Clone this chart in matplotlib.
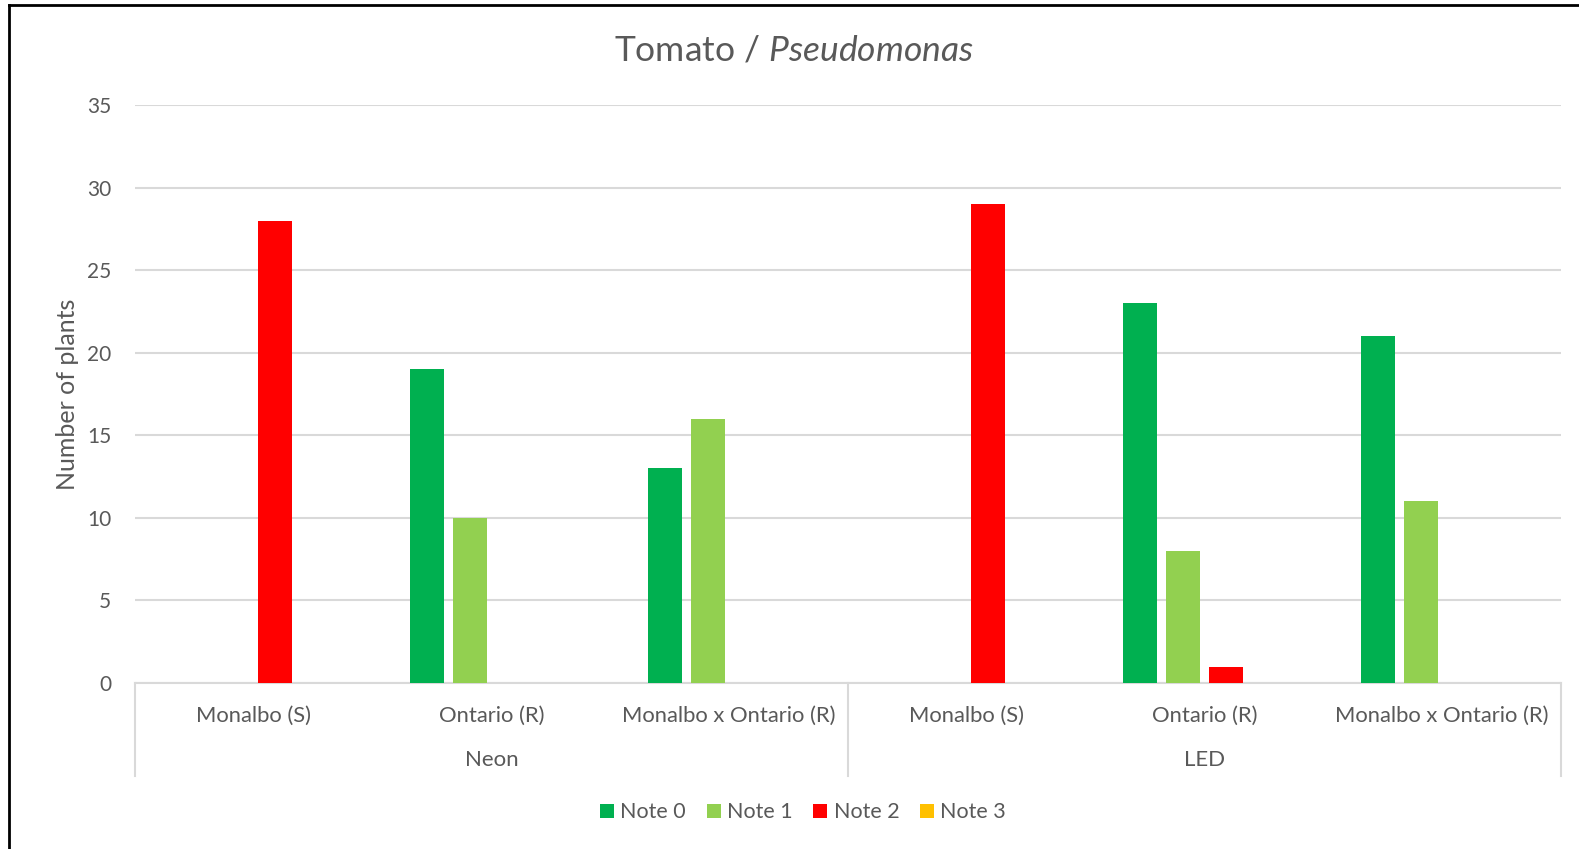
import matplotlib.pyplot as plt
from matplotlib.lines import Line2D
import matplotlib.transforms as mtransforms
import numpy as np

# data
groups = ["Neon", "LED"]
varieties = ["Monalbo (S)", "Ontario (R)", "Monalbo x Ontario (R)"]
series = ["Note 0", "Note 1", "Note 2", "Note 3"]
note0 = [0, 19, 13, 0, 23, 21]
note1 = [0, 10, 16, 0, 8, 11]
note2 = [28, 0, 0, 29, 1, 0]
note3 = [0, 0, 0, 0, 0, 0]
colors = ["#00B050", "#92D050", "#FF0000", "#FFC000"]

plt.rcParams['font.family'] = ['Lato', 'DejaVu Sans']
plt.rcParams['mathtext.fontset'] = 'custom'
plt.rcParams['mathtext.rm'] = 'Lato'
plt.rcParams['mathtext.it'] = 'Lato:italic'
txt = "#595959"
grid = "#D9D9D9"

fig = plt.figure(figsize=(15.79, 8.49), dpi=100)
ax = fig.add_axes([0.0855, 0.1955, 0.9031, 0.6808])

x = np.arange(len(groups) * len(varieties))
pitch = 0.181
bw = 0.143
for i, (name, vals) in enumerate(zip(series, [note0, note1, note2, note3])):
    ax.bar(x + (i - 1.5) * pitch, vals, bw, color=colors[i], label=name, zorder=3)

ax.set_xlim(-0.5, len(x) - 0.5)
ax.set_ylim(0, 35)
ax.set_yticks(range(0, 36, 5))
ax.yaxis.grid(True, color=grid, lw=1.5, zorder=0)
for s in ["top", "right", "left"]:
    ax.spines[s].set_visible(False)
ax.spines["bottom"].set_color(grid)
ax.spines["bottom"].set_linewidth(1.5)
ax.tick_params(axis="y", length=0, pad=17, labelsize=15, labelcolor=txt)

ax.set_xticks(x)
ax.set_xticklabels(varieties * len(groups))
ax.tick_params(axis="x", length=0, pad=16.5, labelsize=15.8, labelcolor=txt)

# second level of category axis
trans = mtransforms.blended_transform_factory(ax.transData, ax.transAxes)
for b in [-0.5, 2.5, 5.5]:
    ax.add_line(Line2D([b, b], [0, -0.161], transform=trans, color=grid, lw=1.5, clip_on=False))
for g, name in enumerate(groups):
    ax.text(g * 3 + 1, -0.133, name, transform=trans, ha="center", va="center",
            fontsize=16, color=txt)

ax.set_ylabel("Number of plants", fontsize=18, color=txt, labelpad=6)
fig.text(0.503, 1 - 50 / 849, "Tomato / $\\mathit{Pseudomonas}$", fontsize=25.5,
         color=txt, ha="center", va="center")

fig.legend(loc="center", bbox_to_anchor=(0.5085, 0.043), ncol=4, frameon=False,
           fontsize=15.5, handlelength=0.65, handleheight=0.65, handletextpad=0.3,
           columnspacing=0.95, labelcolor=txt)

# frame of the pasted picture
fig.add_artist(Line2D([0.0057, 0.0057], [0, 1 - 5 / 849], transform=fig.transFigure, color="black", lw=2))
fig.add_artist(Line2D([0.0057, 1], [1 - 5 / 849, 1 - 5 / 849], transform=fig.transFigure, color="black", lw=2))

fig.savefig("out.png", dpi=100)
